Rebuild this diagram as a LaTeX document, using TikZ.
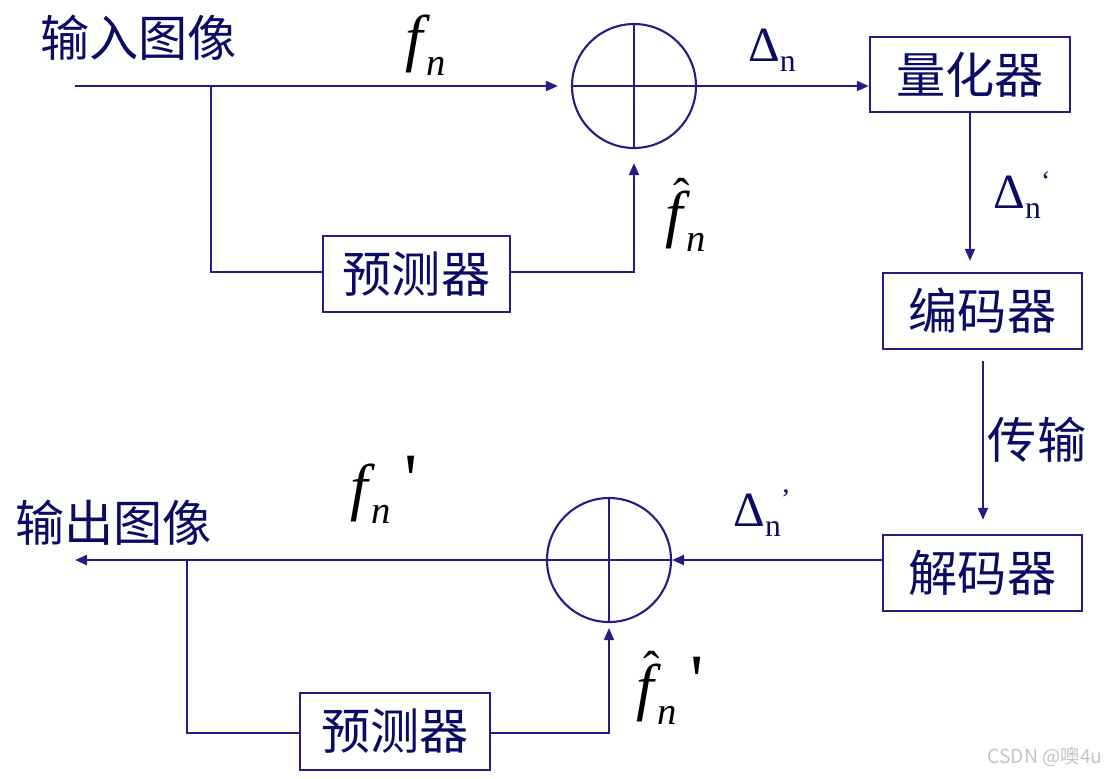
\documentclass[tikz,border=0pt]{standalone}
\usepackage{fontspec}
\setmainfont{Liberation Serif}
\newfontfamily\cjk{Noto Sans CJK SC}
\usepackage{tikz}
\usetikzlibrary{positioning, arrows.meta}
\definecolor{navyline}{HTML}{2A1A85}
\definecolor{navytext}{HTML}{0B0B66}
\definecolor{markgray}{HTML}{C4C4C4}

% pieces of the signal labels
\newcommand{\fbig}{{\fontsize{18}{18}\selectfont\itshape f}}
\newcommand{\fhat}{\fbig\llap{\raisebox{6.5pt}{\fontsize{14}{14}\selectfont ˆ}\kern-1.8pt}}
\newcommand{\nsub}{\kern1pt\raisebox{-4.5pt}{\fontsize{11}{11}\selectfont\itshape n}}
\newcommand{\fprime}{\kern4pt\raisebox{1pt}{\fontsize{21}{21}\selectfont\textquotesingle}}
\newcommand{\dlt}{{\fontsize{14}{14}\selectfont Δ}\raisebox{-2.8pt}{\fontsize{9}{9}\selectfont n}}

\begin{document}
\begin{tikzpicture}[
    line width=0.6pt,
    arr/.style={draw=navyline, -{Triangle[length=1.2mm,width=1mm]}},
    wire/.style={draw=navyline},
    block/.style={draw=navyline, line width=0.7pt, inner sep=0pt,
                  font=\cjk\fontsize{14}{14}\selectfont, text=navytext},
    sumnode/.style={draw=navyline, circle, minimum size=1.24cm, inner sep=0pt},
    cjklabel/.style={font=\cjk\fontsize{14}{14}\selectfont, text=navytext, inner sep=0pt},
    varlabel/.style={text=black, inner sep=0pt},
    dlabel/.style={text=navytext, inner sep=0pt}
  ]
  \useasboundingbox (0,0) rectangle (11.19,-7.78);

  % encoder half
  \node[cjklabel] (inlab) at (1.385,-0.38) {输入图像};
  \coordinate (in) at (0.75,-0.86);
  \node[sumnode] (sum1) at (6.34,-0.86) {};
  \node[block, minimum width=2cm, minimum height=0.75cm] (quant) at (9.70,-0.745) {量化器};
  \node[block, minimum width=1.87cm, minimum height=0.76cm] (pred1) at (4.165,-2.74) {预测器};
  \node[block, minimum width=1.99cm, minimum height=0.76cm] (coder) at (9.825,-3.11) {编码器};
  \coordinate (tap1) at (2.11,-0.86);

  \draw[wire] (sum1.west) -- (sum1.east);
  \draw[wire] (sum1.north) -- (sum1.south);
  \draw[arr, shorten >=1.3mm] (in) -- (sum1.west);
  \draw[arr] (sum1.east) -- (quant.west |- sum1.east);
  \draw[wire] (tap1) |- (pred1.west |- 0,-2.72);
  \draw[arr, shorten >=1.4mm] (pred1.east |- 0,-2.72) -| (sum1.south);
  \draw[arr, shorten >=1.1mm] (quant.south) -- (quant.south |- coder.north);

  \node[varlabel] (fn) at (4.26,-0.45) {\fbig\nsub};
  \node[varlabel] (fnhat) at (6.86,-2.15) {\fhat\nsub};
  \node[dlabel] (dn) at (7.72,-0.50) {\dlt};
  \node[dlabel] (dnq) at (10.22,-1.95) {\dlt\raisebox{5pt}{\fontsize{8}{8}\selectfont ‘}};

  % decoder half
  \node[block, minimum width=1.99cm, minimum height=0.76cm] (decoder) at (9.825,-5.73) {解码器};
  \node[sumnode] (sum2) at (6.09,-5.60) {};
  \node[block, minimum width=1.90cm, minimum height=0.77cm] (pred2) at (3.95,-7.315) {预测器};
  \node[cjklabel] (outlab) at (1.135,-5.23) {输出图像};
  \node[cjklabel] (trans) at (10.37,-4.40) {传输};
  \coordinate (out) at (0.75,-5.60);
  \coordinate (tap2) at (1.87,-5.60);

  \draw[arr, shorten <=1.1mm, shorten >=1.4mm] (coder.south -| 9.83,0) -- (decoder.north -| 9.83,0);
  \draw[wire] (sum2.west) -- (sum2.east);
  \draw[wire] (sum2.north) -- (sum2.south);
  \draw[arr] (decoder.west |- sum2.east) -- (sum2.east);
  \draw[arr] (sum2.west) -- (out);
  \draw[wire] (tap2) |- (pred2.west |- 0,-7.33);
  \draw[arr, shorten >=0.5mm] (pred2.east |- 0,-7.33) -| (sum2.south);

  \node[varlabel] (fnp) at (3.84,-4.90) {\fbig\nsub\fprime};
  \node[varlabel] (fnhatp) at (6.70,-6.88) {\fhat\nsub\fprime};
  \node[dlabel] (dnp) at (7.62,-5.13) {\dlt\raisebox{5pt}{\fontsize{8}{8}\selectfont ’}};

  \node[text=markgray, font=\cjk\fontsize{5.5}{5.5}\selectfont, inner sep=0pt] (mark) at (10.45,-7.57) {CSDN @噢4u};
\end{tikzpicture}
\end{document}
